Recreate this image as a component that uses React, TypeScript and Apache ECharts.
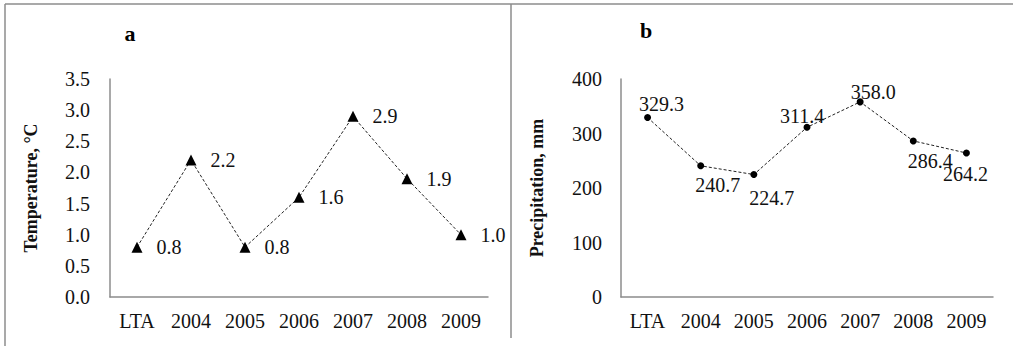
import React, { useEffect, useRef } from "react";
import * as echarts from "echarts";

const categories = ["LTA", "2004", "2005", "2006", "2007", "2008", "2009"];
const temperature = [0.8, 2.2, 0.8, 1.6, 2.9, 1.9, 1.0];
const precipitation = [329.3, 240.7, 224.7, 311.4, 358.0, 286.4, 264.2];
const tempTitle = "Temperature, °C";
const precTitle = "Precipitation, mm";
const panelA = "a";
const panelB = "b";

// label offsets (style only) for panel b labels
const precLabelOffsets: [number, number][] = [
  [14, -14],
  [17, 19],
  [18, 23],
  [-5, -11],
  [13, -10],
  [17, 20],
  [-1, 21],
];

const FONT = "'Liberation Serif', 'Times New Roman', serif";
const GRAY = "#8c8c8c";
const FS = 20;

export default function App() {
  const ref = useRef<HTMLDivElement>(null);
  useEffect(() => {
    if (!ref.current) return;
    const chart = echarts.init(ref.current, undefined, { renderer: "svg" });
    const xAxisBase = {
      type: "category" as const,
      data: categories,
      boundaryGap: true,
      axisLine: { lineStyle: { color: GRAY, width: 1.5 } },
      axisTick: { show: false },
      axisLabel: { color: "#111", fontFamily: FONT, fontSize: FS, margin: 14 },
      splitLine: { show: false },
    };
    const yAxisBase = {
      type: "value" as const,
      axisLine: { show: true, lineStyle: { color: GRAY, width: 1.5 } },
      axisTick: { show: false },
      splitLine: { show: false },
      nameLocation: "middle" as const,
      nameRotate: 90,
      nameTextStyle: { color: "#111", fontFamily: FONT, fontSize: 18, fontWeight: "bold" as const },
    };
    chart.setOption({
      animation: false,
      backgroundColor: "#fff",
      grid: [
        { left: 110, right: 525, top: 79, bottom: 49 },
        { left: 621, right: 20, top: 79, bottom: 49 },
      ],
      xAxis: [
        { ...xAxisBase, gridIndex: 0 },
        { ...xAxisBase, gridIndex: 1 },
      ],
      yAxis: [
        {
          ...yAxisBase,
          gridIndex: 0,
          min: 0,
          max: 3.5,
          interval: 0.5,
          name: tempTitle,
          nameGap: 70,
          axisLabel: {
            color: "#111",
            fontFamily: FONT,
            fontSize: FS,
            margin: 20,
            formatter: (v: number) => v.toFixed(1),
          },
        },
        {
          ...yAxisBase,
          gridIndex: 1,
          min: 0,
          max: 400,
          interval: 100,
          name: precTitle,
          nameGap: 75,
          axisLabel: { color: "#111", fontFamily: FONT, fontSize: FS, margin: 19 },
        },
      ],
      series: [
        {
          type: "line",
          xAxisIndex: 0,
          yAxisIndex: 0,
          data: temperature,
          symbol: "triangle",
          symbolSize: 11,
          itemStyle: { color: "#000" },
          lineStyle: { color: "#222", width: 1, type: [3, 2] },
          label: {
            show: true,
            position: "right",
            distance: 14,
            color: "#111",
            fontFamily: FONT,
            fontSize: FS,
            formatter: (p: any) => Number(p.value).toFixed(1),
          },
        },
        {
          type: "line",
          xAxisIndex: 1,
          yAxisIndex: 1,
          data: precipitation.map((v, i) => ({
            value: v,
            label: { offset: precLabelOffsets[i] },
          })),
          symbol: "circle",
          symbolSize: 7,
          itemStyle: { color: "#000" },
          lineStyle: { color: "#222", width: 1, type: [3, 2] },
          label: {
            show: true,
            position: "inside",
            color: "#111",
            fontFamily: FONT,
            fontSize: FS,
            formatter: (p: any) => Number(p.value).toFixed(1),
          },
        },
      ],
      graphic: [
        { type: "line", shape: { x1: 5, y1: 4, x2: 1013, y2: 4 }, style: { stroke: GRAY, lineWidth: 1.5 } },
        { type: "line", shape: { x1: 5, y1: 4, x2: 5, y2: 346 }, style: { stroke: GRAY, lineWidth: 1.5 } },
        { type: "line", shape: { x1: 511, y1: 4, x2: 511, y2: 338 }, style: { stroke: GRAY, lineWidth: 1.5 } },
        {
          type: "text",
          x: 130,
          y: 33,
          style: { text: panelA, fontFamily: FONT, fontSize: 22, fontWeight: "bold", fill: "#000", align: "center", verticalAlign: "middle" },
        },
        {
          type: "text",
          x: 646,
          y: 30,
          style: { text: panelB, fontFamily: FONT, fontSize: 22, fontWeight: "bold", fill: "#000", align: "center", verticalAlign: "middle" },
        },
      ],
    });
    return () => chart.dispose();
  }, []);
  return (
    <div
      ref={ref}
      style={{ position: "fixed", left: 0, top: 0, width: 1013, height: 346 }}
    />
  );
}
